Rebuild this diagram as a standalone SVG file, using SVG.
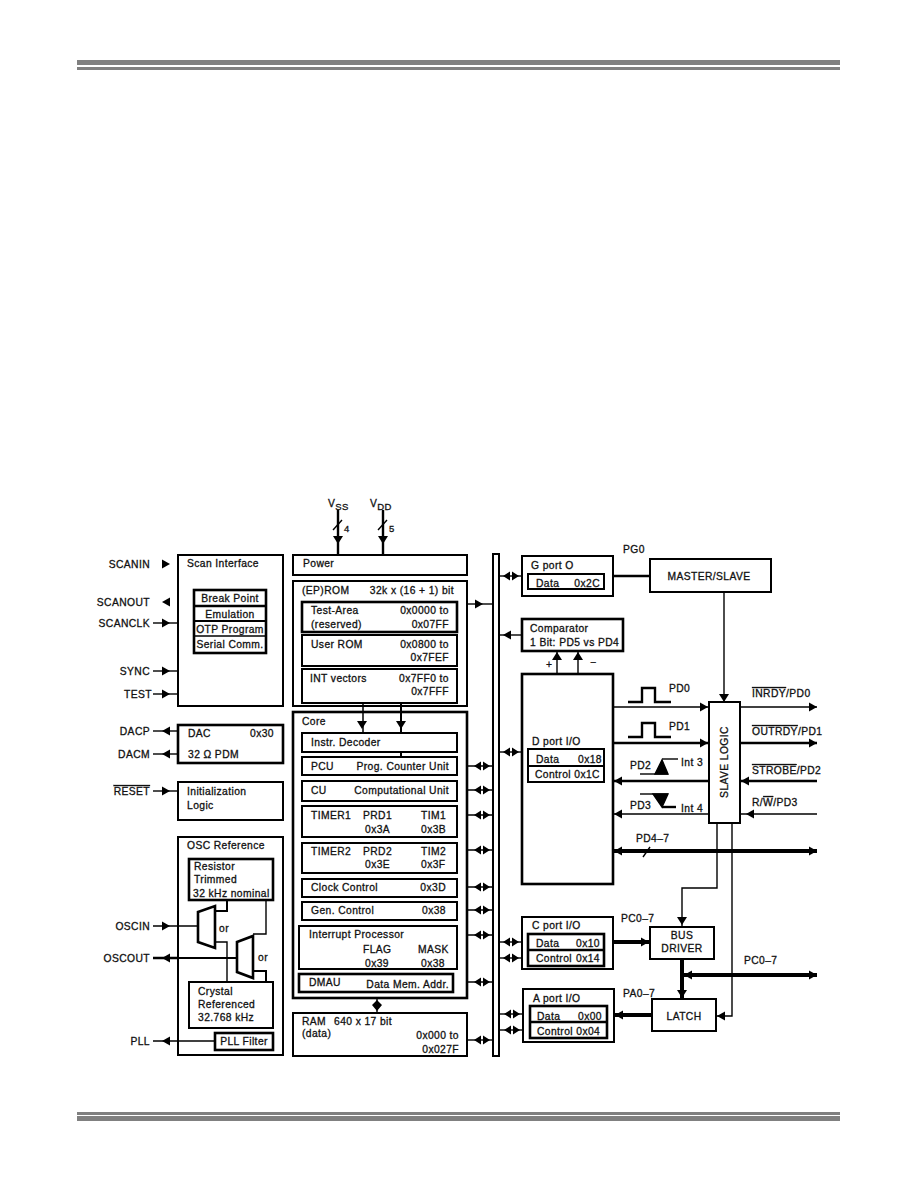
<svg xmlns="http://www.w3.org/2000/svg" width="918" height="1188" viewBox="0 0 918 1188">
<style>
text{font-family:"Liberation Sans",Arial,sans-serif;font-size:10.3px;letter-spacing:.4px;fill:#111;stroke:#111;stroke-width:.3px}
.e{text-anchor:end}.m{text-anchor:middle}
.s{font-size:9.5px}
.o{text-decoration:overline}
rect,.b{fill:#fff;stroke:#000;stroke-width:2}
.t{stroke-width:2.6}
.n{stroke-width:1.5}
.c path,.c polyline,.c line{fill:none;stroke:#000;stroke-width:1.4}
.c .h{stroke-width:2.4}
.c .x{stroke-width:4}
.c use{fill:#000}
.r{fill:#808080;stroke:none}
</style>
<defs>
<path id="ar" d="M-4,-4.5L4,0L-4,4.5z"/>
<path id="al" d="M4,-4.5L-4,0L4,4.5z"/>
<path id="au" d="M-5,4L0,-4L5,4z"/>
<path id="ad" d="M-5,-4L0,4L5,-4z"/>
<path id="db" d="M-8,0L-1,-4.5L-1,4.5zM8,0L1,-4.5L1,4.5z"/>
</defs>
<g id="rules">
<rect class="r" x="77" y="60" width="763" height="5"/><rect class="r" x="77" y="67" width="763" height="3"/>
<rect class="r" x="77" y="1112" width="763" height="3"/><rect class="r" x="77" y="1116" width="763" height="5"/>
</g>
<g class="c" id="connectors">
<line class="h" x1="338" y1="510" x2="338" y2="555"/><use href="#ad" x="338" y="540"/><line x1="333" y1="530" x2="342" y2="520"/>
<line class="h" x1="383" y1="510" x2="383" y2="555"/><use href="#ad" x="383" y="540"/><line x1="378" y1="530" x2="387" y2="520"/>
<use href="#ar" x="166" y="564"/><use href="#al" x="166" y="602"/>
<line x1="153" y1="623" x2="178" y2="623"/><use href="#ar" x="166" y="623"/>
<line x1="153" y1="671" x2="178" y2="671"/><use href="#ar" x="166" y="671"/>
<line x1="153" y1="694" x2="178" y2="694"/><use href="#ar" x="166" y="694"/>
<line x1="153" y1="731" x2="178" y2="731"/><use href="#al" x="166" y="731"/>
<line x1="153" y1="754" x2="178" y2="754"/><use href="#al" x="166" y="754"/>
<line x1="153" y1="791" x2="178" y2="791"/><use href="#ar" x="166" y="791"/>
<line x1="153" y1="926" x2="198" y2="926"/><use href="#ar" x="166" y="926"/>
<line class="h" x1="153" y1="958" x2="237" y2="958"/><use href="#al" x="166" y="958"/>
<line x1="153" y1="1041" x2="215" y2="1041"/><use href="#al" x="166" y="1041"/>
<line x1="467" y1="604" x2="493" y2="604"/><use href="#ar" x="479" y="604"/>
<line x1="457" y1="766" x2="493" y2="766"/><use href="#db" x="482" y="766"/>
<line x1="457" y1="790" x2="493" y2="790"/><use href="#db" x="482" y="790"/>
<line x1="457" y1="815" x2="493" y2="815"/><use href="#db" x="482" y="815"/>
<line x1="457" y1="850" x2="493" y2="850"/><use href="#db" x="482" y="850"/>
<line x1="457" y1="887" x2="493" y2="887"/><use href="#db" x="482" y="887"/>
<line x1="457" y1="910" x2="493" y2="910"/><use href="#db" x="482" y="910"/>
<line x1="457" y1="935" x2="493" y2="935"/><use href="#db" x="482" y="935"/>
<line x1="453" y1="982" x2="493" y2="982"/><use href="#db" x="482" y="982"/>
<line x1="467" y1="1040" x2="493" y2="1040"/><use href="#db" x="482" y="1040"/>
<line x1="377" y1="998" x2="377" y2="1013"/><path d="M372,1005L382,1005L377,1000zM372,1005L382,1005L377,1011z" style="fill:#000;stroke:none"/>
<line x1="499" y1="576" x2="522" y2="576"/><use href="#db" x="511" y="576"/>
<line x1="499" y1="635" x2="522" y2="635"/><use href="#al" x="507" y="635"/>
<line x1="499" y1="752" x2="522" y2="752"/><use href="#db" x="511" y="752"/>
<line x1="499" y1="942" x2="522" y2="942"/><use href="#db" x="511" y="942"/>
<line x1="499" y1="958" x2="522" y2="958"/><use href="#db" x="511" y="958"/>
<line x1="499" y1="1014" x2="523" y2="1014"/><use href="#db" x="512" y="1014"/>
<line x1="499" y1="1030" x2="523" y2="1030"/><use href="#db" x="512" y="1030"/>
<line class="h" x1="613" y1="576" x2="650" y2="576"/>
<line x1="724" y1="592" x2="724" y2="702"/><use href="#ad" x="724" y="698"/>
<line x1="557" y1="674" x2="557" y2="651"/><use href="#au" x="557" y="656"/>
<line x1="578" y1="674" x2="578" y2="651"/><use href="#au" x="578" y="656"/>
<line x1="613" y1="707" x2="709" y2="707"/><use href="#ar" x="704" y="707"/>
<line class="h" x1="613" y1="743" x2="709" y2="743"/><use href="#ar" x="704" y="743"/>
<line class="h" x1="613" y1="781" x2="709" y2="781"/><use href="#al" x="618" y="781"/>
<line x1="613" y1="814" x2="709" y2="814"/><use href="#al" x="618" y="814"/>
<line x1="740" y1="707" x2="817" y2="707"/><use href="#ar" x="813" y="707"/>
<line class="h" x1="740" y1="743" x2="817" y2="743"/><use href="#ar" x="813" y="743"/>
<line class="h" x1="740" y1="781" x2="817" y2="781"/><use href="#al" x="745" y="781"/>
<line x1="740" y1="814" x2="817" y2="814"/><use href="#al" x="750" y="814"/>
<line class="x" x1="613" y1="851" x2="817" y2="851"/><use href="#al" x="618" y="851"/><use href="#ar" x="813" y="851"/><line x1="643" y1="857" x2="650" y2="847"/>
<polyline class="h" points="628,702 642,702 642,688 655,688 655,702 671,702"/>
<polyline class="h" points="628,737 642,737 642,723 655,723 655,737 671,737"/>
<polyline points="640,774 668,774"/><path d="M655,774L668,774L662,760z" style="fill:#000"/><line x1="662" y1="759" x2="678" y2="759"/>
<polyline points="640,794 668,794"/><path d="M653,794L668,794L662,807z" style="fill:#000"/><line class="h" x1="662" y1="807" x2="676" y2="807"/>
<polyline points="717,823 717,888 682,888 682,927"/><use href="#ad" x="682" y="921"/>
<polyline points="732,823 732,1016 716,1016"/><use href="#al" x="721" y="1016"/>
<line class="x" x1="613" y1="942" x2="650" y2="942"/><use href="#ar" x="645" y="942"/>
<line class="x" x1="682" y1="959" x2="682" y2="999"/><use href="#ad" x="682" y="994"/>
<line class="x" x1="683" y1="975" x2="817" y2="975"/><use href="#al" x="688" y="975"/><use href="#ar" x="813" y="975"/>
<line class="x" x1="652" y1="1015" x2="614" y2="1015"/><use href="#al" x="619" y="1015"/>
</g>
<g id="labels-left">
<text class="e" x="150" y="568">SCANIN</text><text class="e" x="150" y="606">SCANOUT</text><text class="e" x="150" y="627">SCANCLK</text><text class="e" x="150" y="675">SYNC</text><text class="e" x="152" y="698">TEST</text><text class="e" x="150" y="735">DACP</text><text class="e" x="150" y="758">DACM</text><text class="e" x="150" y="795"><tspan class="o">RESET</tspan></text><text class="e" x="150" y="930">OSCIN</text><text class="e" x="150" y="962">OSCOUT</text><text class="e" x="150" y="1045">PLL</text>
<text x="328" y="507">V<tspan class="s" dy="3">SS</tspan></text><text x="370" y="507">V<tspan class="s" dy="3">DD</tspan></text><text class="s" x="344" y="532">4</text><text class="s" x="389" y="532">5</text>
</g>
<g id="scan"><rect x="178" y="555" width="105" height="151"/><text x="187" y="567">Scan Interface</text>
<rect class="t" x="194" y="590" width="72" height="63"/><line class="b t" x1="194" y1="606" x2="266" y2="606"/><line class="b" x1="194" y1="621" x2="266" y2="621"/><line class="b n" x1="194" y1="636" x2="266" y2="636"/>
<text class="m" x="230" y="602">Break Point</text><text class="m" x="230" y="618">Emulation</text><text class="m" x="230" y="633">OTP Program</text><text class="m" x="230" y="648">Serial Comm.</text></g>
<g id="dac"><rect class="t" x="178" y="725" width="105" height="38"/><text x="188" y="737">DAC</text><text class="e" x="274" y="737">0x30</text><text x="188" y="758">32 Ω PDM</text></g>
<g id="init"><rect x="178" y="782" width="105" height="38"/><text x="187" y="795">Initialization</text><text x="187" y="809">Logic</text></g>
<g id="osc"><rect x="178" y="837" width="105" height="218"/><text x="187" y="849">OSC Reference</text>
<polyline class="b" style="fill:none;stroke-width:1.4" points="266,900 266,934 253,934"/>
<polyline class="b" style="fill:none;stroke-width:1.4" points="215,942 227,942 227,982"/>
<line class="b" x1="178" y1="958" x2="237" y2="958"/><line class="b n" x1="178" y1="926" x2="198" y2="926"/><line class="b n" x1="178" y1="1041" x2="215" y2="1041"/>
<polyline class="b" style="fill:none" points="227,900 227,911 215,911"/><polyline class="b" style="fill:none" points="253,971 266,971 266,982"/>
<rect class="t" x="189" y="859" width="84" height="41"/><text x="194" y="870">Resistor</text><text x="194" y="883">Trimmed</text><text x="193" y="897">32 kHz nominal</text>
<rect x="189" y="982" width="84" height="46"/><text x="198" y="995">Crystal</text><text x="198" y="1008">Referenced</text><text x="198" y="1021">32.768 kHz</text>
<rect class="t" x="215" y="1033" width="58" height="17"/><text class="m" x="244" y="1045">PLL Filter</text>
<path class="b t" d="M198,912L215,906L215,948L198,942z"/><path class="b t" d="M237,942L253,936L253,978L237,972z"/>
<text x="219" y="932">or</text><text x="258" y="961">or</text></g>
<g id="power"><rect x="293" y="555" width="174" height="20"/><text x="303" y="567">Power</text></g>
<g id="rom"><rect x="293" y="581" width="174" height="125"/><text x="302" y="594">(EP)ROM</text><text class="e" x="454" y="594">32k x (16 + 1) bit</text>
<rect class="t" x="302" y="602" width="155" height="30"/><text x="311" y="614">Test-Area</text><text class="e" x="449" y="614">0x0000 to</text><text x="311" y="628">(reserved)</text><text class="e" x="449" y="628">0x07FF</text>
<rect x="302" y="635" width="155" height="31"/><text x="311" y="648">User ROM</text><text class="e" x="449" y="648">0x0800 to</text><text class="e" x="449" y="661">0x7FEF</text>
<rect x="302" y="669" width="155" height="34"/><text x="310" y="682">INT vectors</text><text class="e" x="449" y="682">0x7FF0 to</text><text class="e" x="449" y="695">0x7FFF</text></g>
<g id="core"><rect class="t" x="293" y="712" width="174" height="286"/><text x="302" y="725">Core</text>
<line class="b n" x1="363" y1="703" x2="363" y2="733"/><line class="b" x1="401" y1="703" x2="401" y2="733"/><path d="M357,721L367,721L362,729zM396,721L406,721L401,729z"/>
<g id="instr"><rect x="302" y="733" width="155" height="19"/><text x="311" y="746">Instr. Decoder</text></g><line class="b" x1="401" y1="752" x2="401" y2="757"/>
<g id="pcu"><rect x="302" y="757" width="155" height="18"/><text x="311" y="770">PCU</text><text class="e" x="449" y="770">Prog. Counter Unit</text></g>
<g id="cu"><rect x="302" y="781" width="155" height="20"/><text x="311" y="794">CU</text><text class="e" x="449" y="794">Computational Unit</text></g>
<g id="timer1"><rect x="302" y="806" width="155" height="31"/><text x="311" y="819">TIMER1</text><text x="363" y="819">PRD1</text><text x="421" y="819">TIM1</text><text x="365" y="833">0x3A</text><text x="421" y="833">0x3B</text></g>
<g id="timer2"><rect x="302" y="843" width="155" height="30"/><text x="311" y="855">TIMER2</text><text x="363" y="855">PRD2</text><text x="421" y="855">TIM2</text><text x="365" y="868">0x3E</text><text x="421" y="868">0x3F</text></g>
<g id="clock"><rect x="302" y="879" width="155" height="18"/><text x="311" y="891">Clock Control</text><text class="e" x="446" y="891">0x3D</text></g>
<g id="gen"><rect x="302" y="902" width="155" height="18"/><text x="311" y="914">Gen. Control</text><text class="e" x="446" y="914">0x38</text></g>
<g id="irq"><rect x="299" y="926" width="158" height="43"/><text x="309" y="938">Interrupt Processor</text><text x="363" y="953">FLAG</text><text x="418" y="953">MASK</text><text x="365" y="967">0x39</text><text x="421" y="967">0x38</text></g>
<g id="dmau"><rect class="t" x="299" y="974" width="154" height="18"/><text x="309" y="986">DMAU</text><text class="e" x="449" y="988">Data Mem. Addr.</text></g></g>
<g id="ram"><rect x="293" y="1013" width="174" height="43"/><text x="302" y="1025">RAM</text><text x="334" y="1025">640 x 17 bit</text><text x="302" y="1037">(data)</text><text class="e" x="459" y="1039">0x000 to</text><text class="e" x="459" y="1053">0x027F</text></g>
<g id="bus"><rect x="493" y="554" width="6" height="502"/></g>
<g id="gport"><rect x="522" y="556" width="91" height="40"/><text x="531" y="569">G port O</text><rect x="528" y="574" width="76" height="15"/><text x="536" y="587">Data</text><text class="e" x="600" y="587">0x2C</text></g>
<g id="master"><rect x="650" y="559" width="121" height="33"/><text class="m" x="709" y="580">MASTER/SLAVE</text><text x="623" y="553">PG0</text></g>
<g id="comparator"><rect class="t" x="522" y="619" width="101" height="32"/><text x="530" y="632">Comparator</text><text x="530" y="646">1 Bit: PD5 vs PD4</text><text x="546" y="668">+</text><text x="590" y="666">−</text></g>
<g id="dport"><rect class="t" x="522" y="674" width="91" height="210"/><text x="532" y="745">D port I/O</text><rect x="528" y="749" width="76" height="33"/><line class="b" x1="528" y1="766" x2="604" y2="766"/><text x="536" y="763">Data</text><text class="e" x="602" y="763">0x18</text><text x="535" y="778">Control 0x1C</text></g>
<g id="slave"><rect x="709" y="702" width="31" height="121"/><text class="m" transform="translate(728,762) rotate(-90)">SLAVE LOGIC</text></g>
<g id="labels-right"><text x="669" y="692">PD0</text><text x="669" y="730">PD1</text><text x="630" y="769">PD2</text><text x="681" y="766">Int 3</text><text x="630" y="809">PD3</text><text x="681" y="812">Int 4</text><text x="752" y="697"><tspan class="o">INRDY</tspan>/PD0</text><text x="752" y="735"><tspan class="o">OUTRDY</tspan>/PD1</text><text x="752" y="774"><tspan class="o">STROBE</tspan>/PD2</text><text x="752" y="806">R/<tspan class="o">W</tspan>/PD3</text><text x="636" y="842">PD4–7</text><text x="621" y="922">PC0–7</text><text x="744" y="964">PC0–7</text><text x="623" y="997">PA0–7</text></g>
<g id="cport"><rect x="522" y="917" width="91" height="52"/><text x="532" y="929">C port I/O</text><rect class="t" x="528" y="934" width="76" height="32"/><line class="b t" x1="528" y1="950" x2="604" y2="950"/><text x="536" y="947">Data</text><text class="e" x="600" y="947">0x10</text><text x="536" y="962">Control</text><text class="e" x="600" y="962">0x14</text></g>
<g id="driver"><rect x="650" y="927" width="64" height="32"/><text class="m" x="682" y="939">BUS</text><text class="m" x="682" y="952">DRIVER</text></g>
<g id="aport"><rect x="523" y="989" width="91" height="53"/><text x="533" y="1002">A port I/O</text><rect class="t" x="530" y="1006" width="77" height="32"/><line class="b t" x1="530" y1="1022" x2="607" y2="1022"/><text x="537" y="1020">Data</text><text class="e" x="602" y="1020">0x00</text><text x="537" y="1035">Control 0x04</text></g>
<g id="latch"><rect x="652" y="999" width="64" height="32"/><text class="m" x="684" y="1020">LATCH</text></g>
</svg>
